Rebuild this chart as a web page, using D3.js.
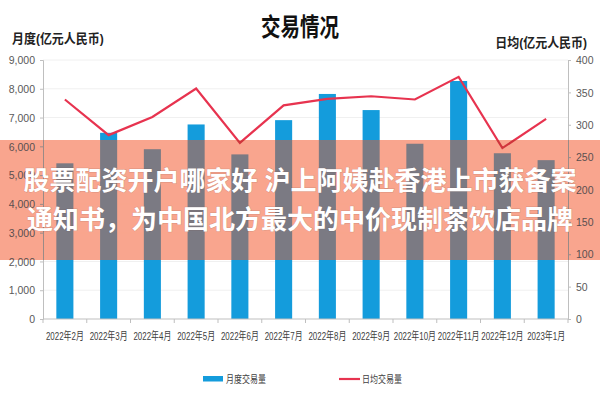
<!DOCTYPE html>
<html>
<head>
<meta charset="utf-8">
<script src="https://cdn.jsdelivr.net/npm/d3@7"></script>
<style>
html,body{margin:0;padding:0;background:#fff;}
svg{display:block;}
text{font-family:"Liberation Sans","Noto Sans CJK SC",sans-serif;}
</style>
</head>
<body>
<svg id="chart" width="600" height="400"></svg>
<script>
const months = ["2022年2月","2022年3月","2022年4月","2022年5月","2022年6月","2022年7月","2022年8月","2022年9月","2022年10月","2022年11月","2022年12月","2023年1月"];
const monthlyVolume = [5410,6470,5900,6760,5720,6910,7820,7260,6090,8270,5760,5520];
const dailyAverage = [339,284,312,356,272,330,340,344,339,374,264,309];
const leftTicks = [0,1000,2000,3000,4000,5000,6000,7000,8000,9000];
const rightTicks = [0,50,100,150,200,250,300,350,400];
const titleText = "交易情况";
const leftAxisTitle = "月度(亿元人民币)";
const rightAxisTitle = "日均(亿元人民币)";
const legendLabels = ["月度交易量","日均交易量"];
const bannerLines = ["股票配资开户哪家好 沪上阿姨赴香港上市获备案","通知书，为中国北方最大的中价现制茶饮店品牌"];

const svg = d3.select("#chart");
const L = 43, R = 568, T = 60, B = 319;
const bannerTop = 140, bannerBottom = 260;

const x = d3.scaleBand().domain(months).range([L, R]).paddingInner(0).paddingOuter(0);
const yL = d3.scaleLinear().domain([0, 9000]).range([B, T]);
const yR = d3.scaleLinear().domain([0, 400]).range([B, T]);
const barW = x.bandwidth() * 0.39;

function condensed(sel, f) {
  sel.each(function() {
    const t = d3.select(this);
    const tx = +t.attr("x") || 0, ty = +t.attr("y") || 0;
    t.attr("x", 0).attr("y", 0).attr("transform", `translate(${tx},${ty}) scale(${f},1)`);
  });
}

function draw(g, pal) {
  // gridlines
  g.append("g").selectAll("line").data(leftTicks.slice(1)).join("line")
    .attr("x1", L).attr("x2", R).attr("y1", d => yL(d)).attr("y2", d => yL(d))
    .attr("stroke", pal.grid).attr("stroke-width", 1);

  // bars
  g.append("g").selectAll("rect").data(months).join("rect")
    .attr("x", (d) => x(d) + (x.bandwidth() - barW) / 2)
    .attr("width", barW)
    .attr("y", (d, i) => yL(monthlyVolume[i]))
    .attr("height", (d, i) => B - yL(monthlyVolume[i]))
    .attr("fill", pal.bar);

  // left axis
  const ax = g.append("g").attr("transform", `translate(${L},0)`)
    .call(d3.axisLeft(yL).tickValues(leftTicks).tickFormat(d3.format(",")).tickSize(3).tickPadding(5));
  ax.select(".domain").attr("stroke", pal.axis);
  ax.selectAll(".tick line").attr("stroke", pal.axis);
  ax.selectAll(".tick text").attr("fill", pal.text).attr("font-size", 10.5)
    .attr("font-family", "'Liberation Sans Narrow','Liberation Sans',sans-serif")
    .attr("dy", "0.35em");

  // right axis
  const ar = g.append("g").attr("transform", `translate(${R},0)`)
    .call(d3.axisRight(yR).tickValues(rightTicks).tickSize(3).tickPadding(5));
  ar.select(".domain").attr("stroke", pal.axis);
  ar.selectAll(".tick line").attr("stroke", pal.axis);
  ar.selectAll(".tick text").attr("fill", pal.text).attr("font-size", 10.5)
    .attr("font-family", "'Liberation Sans Narrow','Liberation Sans',sans-serif")
    .attr("dy", "0.35em");

  // bottom axis
  const ab = g.append("g").attr("transform", `translate(0,${B})`)
    .call(d3.axisBottom(x).tickSize(0).tickPadding(0).tickFormat(""));
  ab.select(".domain").attr("stroke", pal.axis).attr("d", `M${L},0H${R}`);
  ab.append("g").selectAll("line").data(months.concat(["__end"])).join("line")
    .attr("x1", d => d === "__end" ? R : x(d)).attr("x2", d => d === "__end" ? R : x(d))
    .attr("y1", 0).attr("y2", 4).attr("stroke", pal.axis);
  ab.append("g").selectAll("text").data(months).join("text")
    .attr("x", d => x(d) + x.bandwidth() / 2).attr("y", 21)
    .attr("text-anchor", "middle").attr("font-size", 11).attr("fill", pal.xtext)
    .text(d => d).call(condensed, 0.72);

  // line
  const line = d3.line().x((d, i) => x(months[i]) + x.bandwidth() / 2).y(d => yR(d));
  g.append("path").datum(dailyAverage).attr("d", line)
    .attr("fill", "none").attr("stroke", pal.line).attr("stroke-width", 2.2)
    .attr("stroke-linejoin", "miter");
}

// base chart
const base = svg.append("g");
draw(base, {grid:"#f0f0f0", bar:"#149cdc", axis:"#bfbfbf", text:"#595959", xtext:"#404040", line:"#e7334f"});

// titles
svg.append("text").attr("x", 300).attr("y", 36).attr("text-anchor", "middle")
  .attr("font-size", 25).attr("font-weight", "bold").attr("fill", "#111")
  .attr("font-family", "'Noto Sans CJK SC',sans-serif").text(titleText).call(condensed, 0.78);
svg.append("text").attr("x", 12).attr("y", 43).attr("font-size", 13).attr("font-weight", "bold").attr("fill", "#222")
  .attr("font-family", "'Noto Sans CJK SC',sans-serif").text(leftAxisTitle).call(condensed, 0.92);
svg.append("text").attr("x", 587).attr("y", 47).attr("text-anchor", "end").attr("font-size", 13).attr("font-weight", "bold").attr("fill", "#222")
  .attr("font-family", "'Noto Sans CJK SC',sans-serif").text(rightAxisTitle).call(condensed, 0.92);

// legend
const lg = svg.append("g");
lg.append("rect").attr("x", 203).attr("y", 376).attr("width", 20).attr("height", 5.5).attr("fill", "#149cdc");
lg.append("text").attr("x", 226).attr("y", 382.5).attr("font-size", 10.5).attr("fill", "#404040")
  .attr("font-family", "'Noto Sans CJK SC',sans-serif").text(legendLabels[0]).call(condensed, 0.76);
lg.append("line").attr("x1", 339).attr("x2", 360).attr("y1", 379).attr("y2", 379).attr("stroke", "#e7334f").attr("stroke-width", 2.2);
lg.append("text").attr("x", 362).attr("y", 382.5).attr("font-size", 10.5).attr("fill", "#404040")
  .attr("font-family", "'Noto Sans CJK SC',sans-serif").text(legendLabels[1]).call(condensed, 0.76);

// banner overlay
svg.append("rect").attr("x", 0).attr("y", bannerTop).attr("width", 600).attr("height", bannerBottom - bannerTop).attr("fill", "#f9a58e");
svg.append("clipPath").attr("id", "bclip").append("rect").attr("x", 0).attr("y", bannerTop).attr("width", 600).attr("height", bannerBottom - bannerTop);
const over = svg.append("g").attr("clip-path", "url(#bclip)");
draw(over, {grid:"#f9a58e", bar:"#7b7a83", axis:"#9a8a86", text:"#5a5050", xtext:"#404040", line:"#d0353c"});

svg.append("g").selectAll("text").data(bannerLines).join("text")
  .attr("x", 300).attr("y", (d, i) => 190 + i * 39)
  .attr("text-anchor", "middle").attr("font-size", 26).attr("font-weight", "bold")
  .attr("font-family", "'Noto Sans CJK SC',sans-serif").attr("fill", "#ffffff")
  .style("paint-order", "stroke").attr("stroke", "rgba(120,80,70,0.25)").attr("stroke-width", 1)
  .text(d => d);
</script>
</body>
</html>
